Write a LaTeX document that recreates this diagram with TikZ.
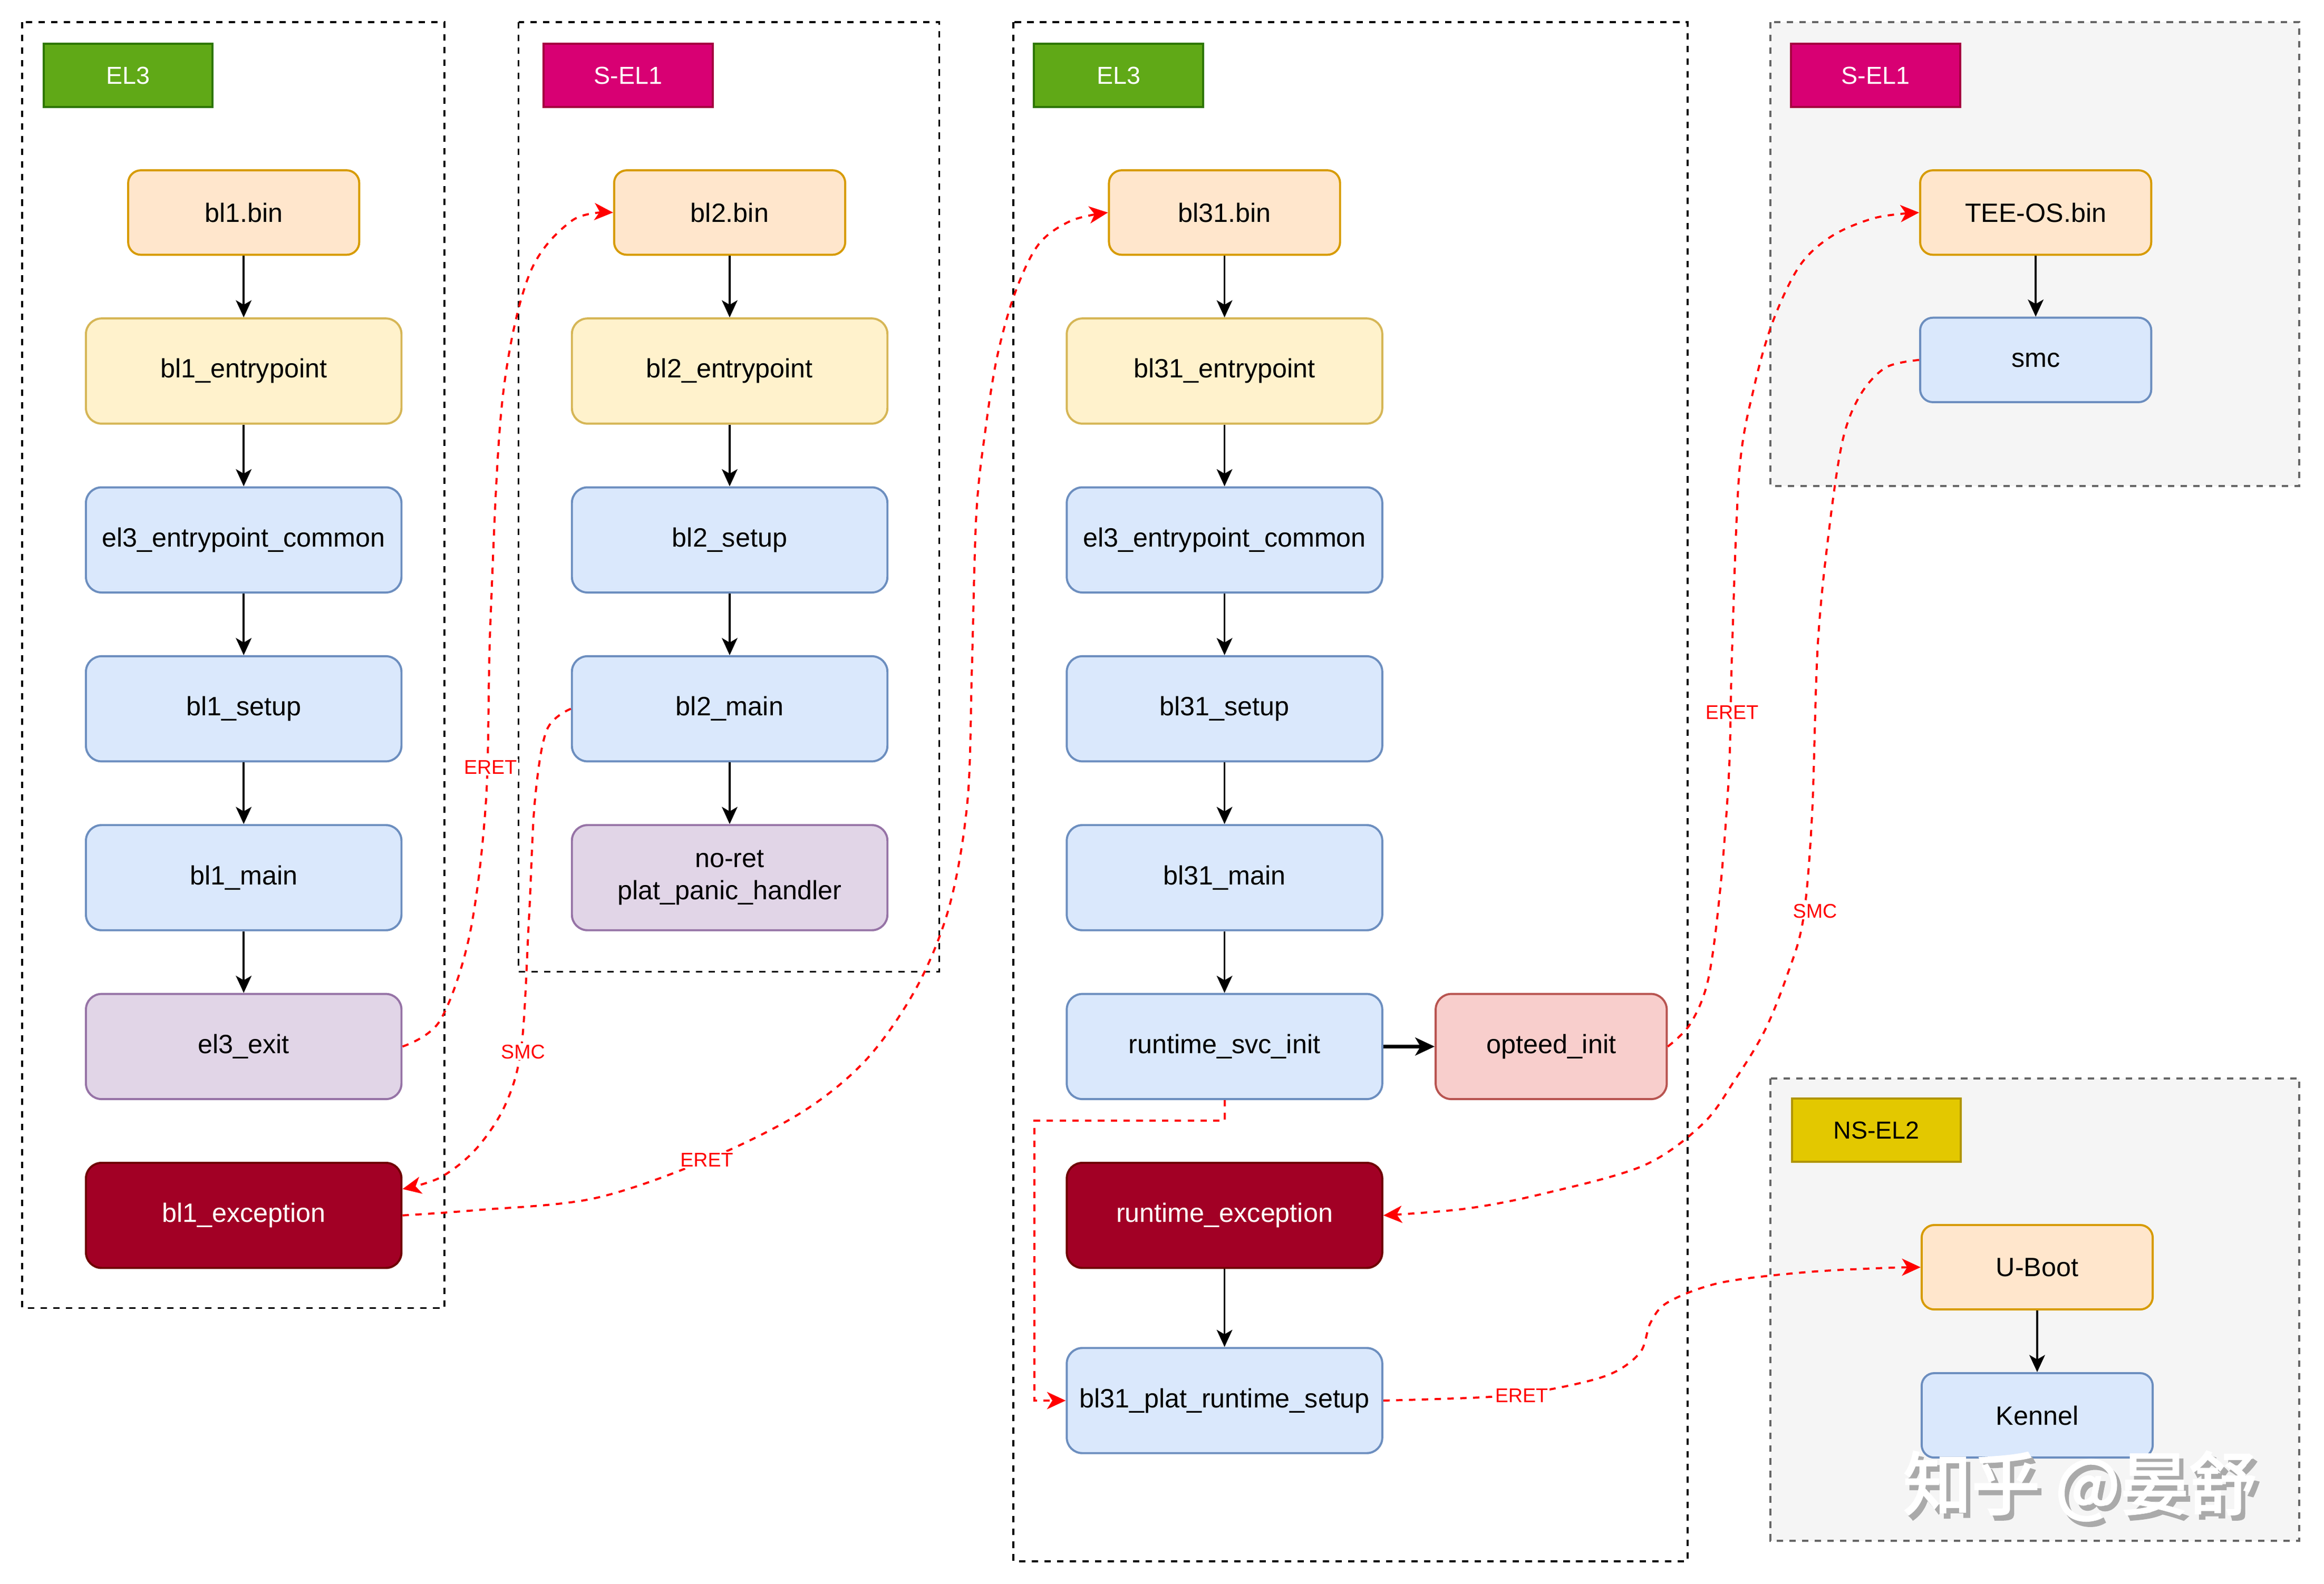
\documentclass[tikz,border=0pt]{standalone}
\usepackage{fontspec}
\setmainfont{Liberation Sans}
\newfontfamily\cjkwm[AutoFakeBold=2.5]{Noto Sans CJK SC}
\usetikzlibrary{arrows.meta}
\definecolor{cOrF}{HTML}{FFE6CC}\definecolor{cOrD}{HTML}{D79B00}
\definecolor{cYeF}{HTML}{FFF2CC}\definecolor{cYeD}{HTML}{D6B656}
\definecolor{cBlF}{HTML}{DAE8FC}\definecolor{cBlD}{HTML}{6C8EBF}
\definecolor{cPuF}{HTML}{E1D5E7}\definecolor{cPuD}{HTML}{9673A6}
\definecolor{cReF}{HTML}{F8CECC}\definecolor{cReD}{HTML}{B85450}
\definecolor{cDrF}{HTML}{A20025}\definecolor{cDrD}{HTML}{6F0000}
\definecolor{cGrF}{HTML}{60A917}\definecolor{cGrD}{HTML}{2D7600}
\definecolor{cMaF}{HTML}{D80073}\definecolor{cMaD}{HTML}{A50040}
\definecolor{cGoF}{HTML}{E3C800}\definecolor{cGoD}{HTML}{B09500}
\definecolor{cGyF}{HTML}{F5F5F5}\definecolor{cGyD}{HTML}{666666}
\definecolor{cWm}{HTML}{AAAAAA}
\newcommand\nodefont{\fontsize{17.8}{21.3}\selectfont}
\newcommand\tagfont{\fontsize{16.5}{19}\selectfont}
\newcommand\labfont{\fontsize{13.3}{15}\selectfont}
\newcommand\wmtext{知乎 @晏舒}
\tikzset{
  nbx/.style={draw, line width=1.4pt, rounded corners=10.5pt, minimum width=211.8pt,
    minimum height=70.6pt, inner sep=0pt, font=\nodefont, align=center},
  sbx/.style={nbx, rounded corners=8.5pt, minimum width=155.1pt, minimum height=56.7pt},
  fOr/.style={fill=cOrF, draw=cOrD},
  fYe/.style={fill=cYeF, draw=cYeD},
  fBl/.style={fill=cBlF, draw=cBlD},
  fPu/.style={fill=cPuF, draw=cPuD},
  fRe/.style={fill=cReF, draw=cReD},
  fDr/.style={fill=cDrF, draw=cDrD, text=white},
  tagbx/.style={draw, line width=1.4pt, minimum width=113.4pt, minimum height=42.5pt,
    inner sep=0pt, font=\tagfont, text=white},
  cont/.style={draw=black, line width=1.3pt, dash pattern=on 4.3pt off 4.2pt},
  gcont/.style={draw=cGyD, fill=cGyF, line width=1.4pt, dash pattern=on 4.3pt off 4.2pt},
  arr/.style={line width=1.3pt, -{Stealth[length=11.5pt, width=10.5pt, inset=3pt]}},
  tarr/.style={line width=2.4pt, -{Stealth[length=13pt, width=12pt, inset=3.5pt]}},
  rarr/.style={draw=red, line width=1.4pt, dash pattern=on 4.3pt off 4.3pt,
    -{Stealth[length=12.5pt, width=11.5pt, inset=3.5pt]}},
  elab/.style={fill=white, text=red, font=\labfont, inner sep=1pt},
}
\begin{document}
\begin{tikzpicture}[x=0.9945pt, y=-0.9945pt]
\useasboundingbox (-0.985,-0.985) rectangle (1567.6,1068.0);
\fill[white] (-0.985,-0.985) rectangle (1567.6,1068.0);

% containers
\draw[cont] (14,14) rectangle (299,882);
\draw[cont] (349,14) rectangle (633,655);
\draw[cont] (683,14) rectangle (1138,1053);
\draw[gcont] (1194,14) rectangle (1551,327);
\draw[gcont] (1194,727) rectangle (1551,1039);

% level tags
\node[tagbx, fill=cGrF, draw=cGrD] (tagA) at (85.5,50) {EL3};
\node[tagbx, fill=cMaF, draw=cMaD] (tagB) at (423,50) {S-EL1};
\node[tagbx, fill=cGrF, draw=cGrD] (tagC) at (754,50) {EL3};
\node[tagbx, fill=cMaF, draw=cMaD] (tagD) at (1265,50) {S-EL1};
\node[tagbx, fill=cGoF, draw=cGoD, text=black] (tagE) at (1265.5,762) {NS-EL2};

% column A
\node[sbx, fOr] (bl1bin) at (163.5,142.5) {bl1.bin};
\node[nbx, fYe] (bl1entry) at (163.5,249.5) {bl1\_entrypoint};
\node[nbx, fBl] (el3common1) at (163.5,363.5) {el3\_entrypoint\_common};
\node[nbx, fBl] (bl1setup) at (163.5,477.5) {bl1\_setup};
\node[nbx, fBl] (bl1main) at (163.5,591.5) {bl1\_main};
\node[nbx, fPu] (el3exit) at (163.5,705.5) {el3\_exit};
\node[nbx, fDr] (bl1ex) at (163.5,819.5) {bl1\_exception};

% column B
\node[sbx, fOr] (bl2bin) at (491.5,142.5) {bl2.bin};
\node[nbx, fYe] (bl2entry) at (491.5,249.5) {bl2\_entrypoint};
\node[nbx, fBl] (bl2setup) at (491.5,363.5) {bl2\_setup};
\node[nbx, fBl] (bl2main) at (491.5,477.5) {bl2\_main};
\node[nbx, fPu] (panic) at (491.5,591.5) {no-ret\\plat\_panic\_handler};

% column C
\node[sbx, fOr] (bl31bin) at (825.5,142.5) {bl31.bin};
\node[nbx, fYe] (bl31entry) at (825.5,249.5) {bl31\_entrypoint};
\node[nbx, fBl] (el3common2) at (825.5,363.5) {el3\_entrypoint\_common};
\node[nbx, fBl] (bl31setup) at (825.5,477.5) {bl31\_setup};
\node[nbx, fBl] (bl31main) at (825.5,591.5) {bl31\_main};
\node[nbx, fBl] (rsvc) at (825.5,705.5) {runtime\_svc\_init};
\node[nbx, fRe, minimum width=155.1pt] (opteed) at (1046,705.5) {opteed\_init};
\node[nbx, fDr] (rexc) at (825.5,819.5) {runtime\_exception};
\node[nbx, fBl] (plat) at (825.5,944.5) {bl31\_plat\_runtime\_setup};

% column D
\node[sbx, fOr] (teebin) at (1373,142.5) {TEE-OS.bin};
\node[sbx, fBl] (smc) at (1373,242) {smc};
\node[sbx, fOr] (uboot) at (1374,854.5) {U-Boot};
\node[sbx, fBl] (kennel) at (1374,954.5) {Kennel};

% black flow arrows
\draw[arr] (bl1bin) -- (bl1entry);
\draw[arr] (bl1entry) -- (el3common1);
\draw[arr] (el3common1) -- (bl1setup);
\draw[arr] (bl1setup) -- (bl1main);
\draw[arr] (bl1main) -- (el3exit);
\draw[arr] (bl2bin) -- (bl2entry);
\draw[arr] (bl2entry) -- (bl2setup);
\draw[arr] (bl2setup) -- (bl2main);
\draw[arr] (bl2main) -- (panic);
\draw[arr] (bl31bin) -- (bl31entry);
\draw[arr] (bl31entry) -- (el3common2);
\draw[arr] (el3common2) -- (bl31setup);
\draw[arr] (bl31setup) -- (bl31main);
\draw[arr] (bl31main) -- (rsvc);
\draw[tarr] (rsvc) -- (opteed);
\draw[arr] (rexc) -- (plat);
\draw[arr] (teebin) -- (smc);
\draw[arr] (uboot) -- (kennel);

% red transitions
\draw[rarr] plot[smooth, tension=0.55] coordinates {(el3exit.east) (296,688) (316,630) (327,540) (330,420) (338,270) (356,185) (385,148) (bl2bin.west)};
\draw[rarr] plot[smooth, tension=0.55] coordinates {(bl2main.west) (368,492) (360,540) (356,620) (351,705) (340,745) (320,775) (296,794) ([yshift=17.7pt]bl1ex.east)};
\draw[rarr] plot[smooth, tension=0.55] coordinates {(bl1ex.east) (320,816) (400,808) (476,782) (540,750) (584,714) (618,665) (640,610) (652,540) (655,450) (658,346) (664,290) (672,240) (684,197) (700,164) (722,148) (bl31bin.west)};
\draw[rarr] (rsvc.south) -- ++(0,14) -| ([xshift=-21pt]plat.west) -- (plat.west);
\draw[rarr] plot[smooth, tension=0.55] coordinates {(opteed.east) (1140,690) (1152,660) (1160,600) (1166,520) (1168,440) (1173,317) (1183,260) (1196,215) (1214,178) (1236,158) (1265,146) (teebin.west)};
\draw[rarr] plot[smooth, tension=0.55] coordinates {(smc.west) (1272,247) (1255,265) (1243,295) (1234,353) (1226,433) (1222,550) (1216,620) (1205,658) (1190,695) (1170,728) (1148,758) (1108,786) (1040,805) (988,815) (rexc.east)};
\draw[rarr] plot[smooth, tension=0.55] coordinates {(plat.east) (1005,942) (1045,937) (1085,927) (1106,912) (1113,892) (1125,878) (1160,865) (1216,858) (1270,855) (uboot.west)};

% transition labels
\node[elab] (l1) at (330,517) {ERET};
\node[elab] (l2) at (352,709) {SMC};
\node[elab] (l3) at (476,782) {ERET};
\node[elab] (l5) at (1168,480) {ERET};
\node[elab] (l6) at (1224,614) {SMC};
\node[elab] (l7) at (1026,941) {ERET};

% watermark (grey shadow and white face in one node)
\node[font={\cjkwm\bfseries\fontsize{46}{50}\selectfont}, inner sep=0pt] (wm) at (1403,1004)
  {\makebox[0pt][l]{\hspace{2.8pt}\raisebox{-3.5pt}{\textcolor{cWm}{\wmtext}}}\textcolor{white}{\wmtext}};
\end{tikzpicture}
\end{document}
